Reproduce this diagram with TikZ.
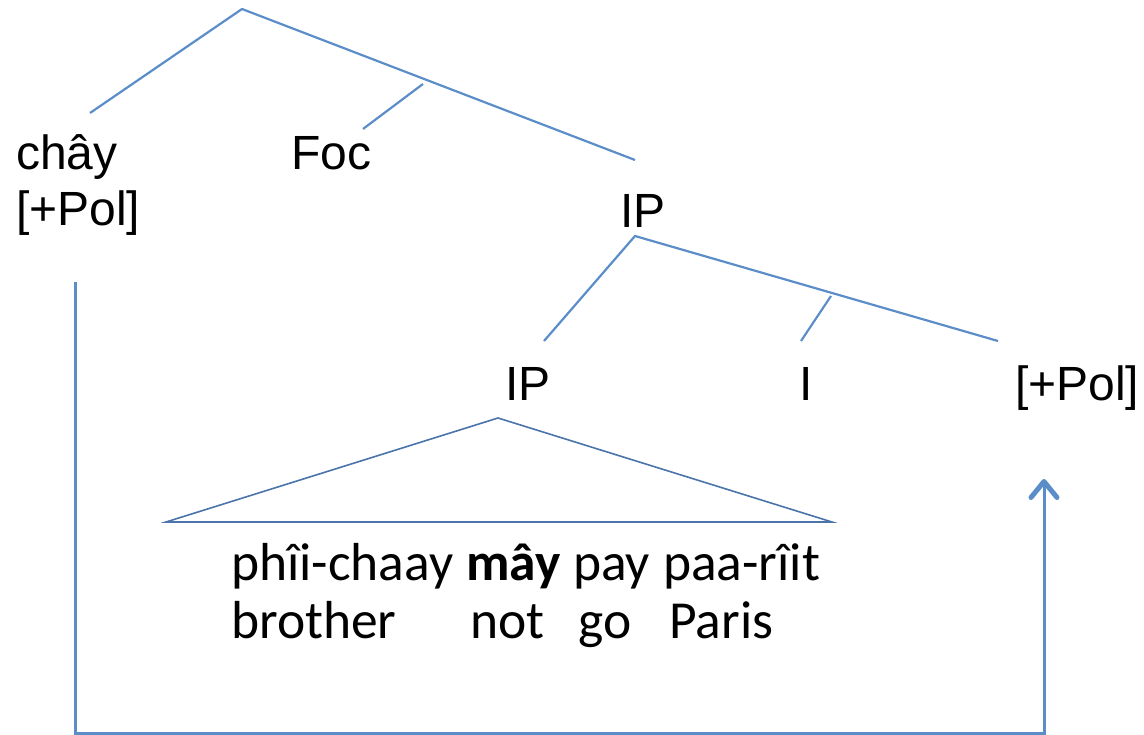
\documentclass[tikz,border=0pt]{standalone}
\usepackage{fontspec}
\setmainfont{Liberation Sans}
\newfontfamily\glossfont{Carlito}
\usetikzlibrary{arrows.meta}
\definecolor{branch}{HTML}{5B8DC9}
\definecolor{tri}{HTML}{4A74AA}
\begin{document}
\begin{tikzpicture}[x=1pt,y=-1pt,
  lbl/.style={inner sep=0pt,anchor=base west,font=\fontsize{48}{55}\selectfont},
  gl/.style={inner sep=0pt,anchor=base west,font=\glossfont\fontsize{53.5}{60}\selectfont},
  edge/.style={draw=branch,line width=2.2pt},
  tri/.style={draw=tri,line width=1.6pt,line join=miter},
  move/.style={draw=branch,line width=3pt,
    -{Straight Barb[length=16pt,width=26pt,line width=5pt,line cap=round,line join=round]}}]
\useasboundingbox (0,0) rectangle (1144,735);

% category labels
\node[lbl] (chay) at (16,170) {châ{}y};
\node[lbl] (pol1) at (16,226) {[+Pol]};
\node[lbl] (foc)  at (291,170) {Foc};
\node[lbl] (ipA)  at (620,228) {IP};
\node[lbl] (ipB)  at (505,400) {IP};
\node[lbl] (infl) at (799,400) {I};
\node[lbl] (pol2) at (1015,400) {[+Pol]};

% Thai words and glosses
\node[gl] (w1) at (231,580) {phîi-chaay};
\node[gl] (w2) at (466,580) {\bfseries mây};
\node[gl] (w3) at (573,580) {pay};
\node[gl] (w4) at (663,580) {paa-rîit};
\node[gl] (g1) at (231,638) {brother};
\node[gl] (g2) at (470,638) {not};
\node[gl] (g3) at (578,638) {go};
\node[gl] (g4) at (669,638) {Paris};

% branch points
\coordinate (top)   at (242,9);
\coordinate (topL)  at (90,113);
\coordinate (topR)  at (635,160);
\coordinate (focT)  at (423,84);
\coordinate (focB)  at (363,129);
\coordinate (ipT)   at (635,236);
\coordinate (ipL)   at (544,341);
\coordinate (ipR)   at (998,341);
\coordinate (iT)    at (831,296);
\coordinate (iB)    at (801,341);
\coordinate (triT)  at (498,418);
\coordinate (triL)  at (166,522);
\coordinate (triR)  at (832,522);

% tree
\draw[edge] (topL) -- (top) -- (topR);
\draw[edge] (focT) -- (focB);
\draw[edge] (ipL) -- (ipT) -- (ipR);
\draw[edge] (iT) -- (iB);
\draw[tri] (triT) -- (triL) -- (triR) -- cycle;

% movement path
\coordinate (mvS) at (75,282);
\coordinate (mvE) at (1044,479);
\draw[move] (mvS) -- (mvS |- 0,733) -- (mvE |- 0,733) -- (mvE);
\end{tikzpicture}
\end{document}
